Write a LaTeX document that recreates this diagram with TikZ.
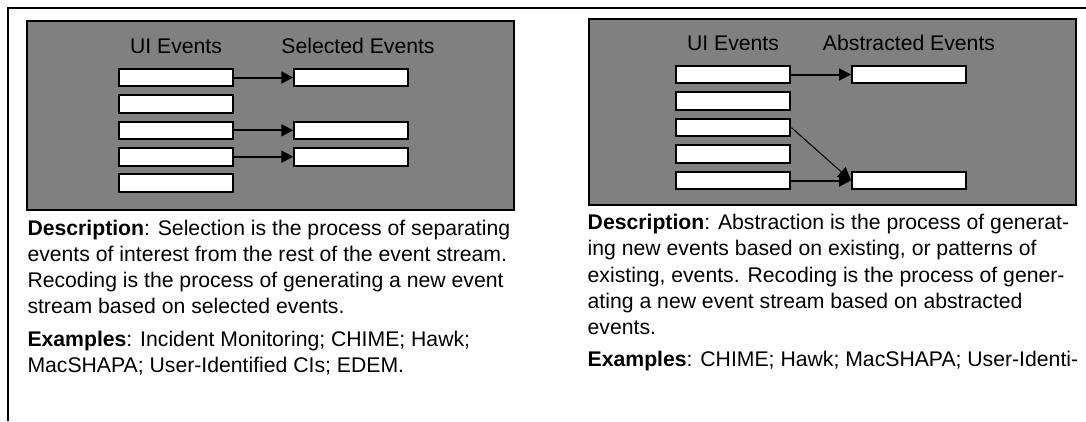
\documentclass[tikz,border=0pt]{standalone}
\usepackage{fontspec}
\setmainfont{Liberation Sans}
\usetikzlibrary{arrows.meta}
\definecolor{panelgray}{RGB}{128,128,128}
\begin{document}
\begin{tikzpicture}[x=1pt,y=-1pt,
  evbox/.style={draw=black, fill=white, line width=2pt, minimum width=114pt, minimum height=17.6pt, inner sep=0pt, outer sep=1pt},
  panel/.style={draw=black, fill=panelgray, line width=2pt},
  frame/.style={draw=black, line width=2pt},
  flow/.style={line width=2pt, -{Triangle[length=12pt,width=12pt]}},
  thinflow/.style={line width=1pt, -{Triangle[length=13pt,width=13pt]}},
  hdr/.style={anchor=base, inner sep=0pt, font=\fontsize{21.2}{26}\selectfont},
  txt/.style={anchor=base west, inner sep=0pt, font=\fontsize{21.2}{26}\selectfont}]

\useasboundingbox (0,0) rectangle (1086,421);

% outer frame
\draw[frame] (8.2,421) -- (8.2,7.7) -- (1086,7.7);

% panels
\draw[panel] (27,21.3) rectangle (514,210);
\draw[panel] (588.7,19.3) rectangle (1075.7,205);

% left panel
\node[hdr] (lh1) at (176,53.3) {UI Events};
\node[hdr] (lh2) at (358,53.3) {Selected Events};
\foreach \i/\y in {1/77.5,2/103.9,3/130.3,4/156.7,5/183.1}
  \node[evbox] (l\i) at (176.3,\y) {};
\node[evbox] (s1) at (351.3,77.5) {};
\node[evbox] (s3) at (351.3,130.3) {};
\node[evbox] (s4) at (351.3,156.7) {};
\draw[flow] (l1.east) -- (s1.west);
\draw[flow] (l3.east) -- (s3.west);
\draw[flow] (l4.east) -- (s4.west);

% right panel
\node[hdr] (rh1) at (733,50) {UI Events};
\node[hdr] (rh2) at (909,50) {Abstracted Events};
\foreach \i/\y in {1/74.5,2/101,3/127.5,4/154,5/180.5}
  \node[evbox] (r\i) at (733.3,\y) {};
\node[evbox] (a1) at (909,74.5) {};
\node[evbox] (a5) at (909,180.5) {};
\draw[flow] (r1.east) -- (a1.west);
\draw[flow] (r5.east) -- (a5.west);
\draw[thinflow] (r3.east) -- (a5.west);

% left text
\node[txt] (lt1) at (27.3,235) {\textbf{Description}: Selection is the process of separating};
\node[txt] (lt2) at (27.3,261.3) {events of interest from the rest of the event stream.};
\node[txt] (lt3) at (27.3,287.6) {Recoding is the process of generating a new event};
\node[txt] (lt4) at (27.3,313.9) {stream based on selected events.};
\node[txt] (lt5) at (27.3,346) {\textbf{Examples}: Incident Monitoring; CHIME; Hawk;};
\node[txt] (lt6) at (27.3,372.3) {MacSHAPA; User-Identified CIs; EDEM.};

% right text
\node[txt] (rt1) at (587.5,229.5) {\textbf{Description}: Abstraction is the process of generat-};
\node[txt] (rt2) at (587.5,255.8) {ing new events based on existing, or patterns of};
\node[txt] (rt3) at (587.5,282.1) {existing, events. Recoding is the process of gener-};
\node[txt] (rt4) at (587.5,308.4) {ating a new event stream based on abstracted};
\node[txt] (rt5) at (587.5,334.7) {events.};
\node[txt] (rt6) at (587.5,366.8) {\textbf{Examples}: CHIME; Hawk; MacSHAPA; User-Identi-};
\end{tikzpicture}
\end{document}
